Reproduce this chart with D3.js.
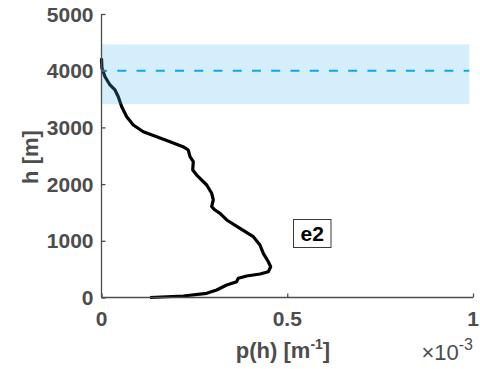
<!DOCTYPE html>
<html>
<head>
<meta charset="utf-8">
<script src="https://cdn.jsdelivr.net/npm/d3@7"></script>
<style>
  html, body { margin: 0; padding: 0; background: #fff; }
  svg { display: block; }
  text { font-family: "Liberation Sans", Arial, Helvetica, sans-serif; }
</style>
</head>
<body>
<svg id="chart" width="480" height="369"></svg>
<script>
// Profile p(h): density values in units of 1e-3 m^-1, against height h in metres
const pValues = [0, 0.0013, 0.0094, 0.0229, 0.0363, 0.0452, 0.0544, 0.0678, 0.0856, 0.1125,
  0.1486, 0.1844, 0.2194, 0.2336, 0.2382, 0.2471, 0.2455, 0.2563, 0.2832, 0.2966,
  0.3009, 0.2966, 0.3055, 0.3190, 0.3370, 0.3728, 0.4086, 0.4266, 0.4355, 0.4490,
  0.4554, 0.4490, 0.4266, 0.3908, 0.3682, 0.3639, 0.3370, 0.3101, 0.2832, 0.2202, 0.1306];
const heights = [4219, 4042, 3894, 3748, 3660, 3541, 3365, 3189, 3042, 2924,
  2836, 2748, 2660, 2601, 2483, 2395, 2249, 2160, 1984, 1838,
  1720, 1601, 1543, 1485, 1367, 1220, 1072, 926, 779, 631,
  543, 455, 414, 379, 339, 279, 220, 132, 74, 26, 0];

// Shaded height band and reference level
const bandRange = [3410, 4465];
const bandExtent = [0, 0.99];
const refHeight = 4000;

const xTicks = [0, 0.5, 1];
const xTickLabels = ["0", "0.5", "1"];
const yTicks = [0, 1000, 2000, 3000, 4000, 5000];

const xLabel = "p(h) [m";
const xLabelSup = "-1";
const yLabel = "h [m]";
const expLabel = "10";
const expSup = "-3";
const tag = "e2";

const svg = d3.select("#chart");
const axisColor = "#4d4d4d";
const tickFont = 21;
const labelFont = 22;

const x = d3.scaleLinear().domain([0, 1]).range([101.5, 473]);
const y = d3.scaleLinear().domain([0, 5000]).range([297.5, 14]);

// Profile curve
const line = d3.line().x((d, i) => x(pValues[i])).y(d => y(d));
svg.append("path")
  .datum(heights)
  .attr("d", line)
  .attr("fill", "none")
  .attr("stroke", "#000")
  .attr("stroke-width", 3.2)
  .attr("stroke-linejoin", "round")
  .attr("stroke-linecap", "butt");

// Translucent band on top of the curve
svg.append("rect")
  .attr("x", x(bandExtent[0]))
  .attr("y", y(bandRange[1]))
  .attr("width", x(bandExtent[1]) - x(bandExtent[0]))
  .attr("height", y(bandRange[0]) - y(bandRange[1]))
  .attr("fill", "rgb(77,190,238)")
  .attr("fill-opacity", 0.24);

// Reference height (dashed)
svg.append("line")
  .attr("x1", x(bandExtent[0]))
  .attr("x2", x(bandExtent[1]))
  .attr("y1", y(refHeight))
  .attr("y2", y(refHeight))
  .attr("stroke", "#0aa8ee")
  .attr("stroke-width", 2)
  .attr("stroke-dasharray", "9,10.24")
  .attr("stroke-dashoffset", 3.44);

// Axes (left and bottom only, ticks pointing inward)
const xAxis = d3.axisBottom(x).tickValues(xTicks).tickSize(-4).tickFormat(() => "");
const yAxis = d3.axisLeft(y).tickValues(yTicks).tickSize(-4).tickFormat(() => "");

const gx = svg.append("g").attr("transform", `translate(0,${y(0)})`).call(xAxis);
const gy = svg.append("g").attr("transform", `translate(${x(0)},0)`).call(yAxis);
[gx, gy].forEach(g => {
  g.select(".domain").attr("stroke", axisColor).attr("stroke-width", 1.3);
  g.selectAll(".tick line").attr("stroke", axisColor).attr("stroke-width", 1.3);
});
gx.select(".domain").attr("d", `M${x(0)},0H${x(1)}`);
gy.select(".domain").attr("d", `M0,${y(5000)}V${y(0)}`);

// Tick labels
svg.append("g").selectAll("text")
  .data(xTicks)
  .join("text")
  .attr("x", d => x(d))
  .attr("y", 325.5)
  .attr("text-anchor", "middle")
  .attr("font-size", tickFont)
  .attr("font-weight", "bold")
  .attr("fill", axisColor)
  .text((d, i) => xTickLabels[i]);

svg.append("g").selectAll("text")
  .data(yTicks)
  .join("text")
  .attr("x", 93.5)
  .attr("y", d => y(d))
  .attr("dy", "0.36em")
  .attr("text-anchor", "end")
  .attr("font-size", tickFont)
  .attr("font-weight", "bold")
  .attr("fill", axisColor)
  .text(d => String(d));

// Axis labels
const xl = svg.append("text")
  .attr("x", 283)
  .attr("y", 358)
  .attr("text-anchor", "middle")
  .attr("font-size", labelFont)
  .attr("font-weight", "bold")
  .attr("fill", axisColor);
xl.append("tspan").text(xLabel);
xl.append("tspan").attr("dy", -9).attr("font-size", 14).text(xLabelSup);
xl.append("tspan").attr("dy", 9).text("]");

svg.append("text")
  .attr("transform", `translate(38,157) rotate(-90)`)
  .attr("text-anchor", "middle")
  .attr("font-size", labelFont)
  .attr("font-weight", "bold")
  .attr("fill", axisColor)
  .text(yLabel);

// Exponent multiplier
const ex = svg.append("text")
  .attr("x", 473)
  .attr("y", 360)
  .attr("text-anchor", "end")
  .attr("font-size", 22)
  .attr("fill", axisColor);
ex.append("tspan").text("\u00d7" + expLabel);
ex.append("tspan").attr("dy", -10).attr("font-size", 16).text(expSup);

// Tag box
svg.append("rect")
  .attr("x", 293.5)
  .attr("y", 219.5)
  .attr("width", 37.5)
  .attr("height", 28)
  .attr("fill", "#fff")
  .attr("stroke", "#3a3a3a")
  .attr("stroke-width", 1);
svg.append("text")
  .attr("x", 312.2)
  .attr("y", 241)
  .attr("text-anchor", "middle")
  .attr("font-size", 21)
  .attr("font-weight", "bold")
  .attr("fill", "#000")
  .text(tag);
</script>
</body>
</html>
